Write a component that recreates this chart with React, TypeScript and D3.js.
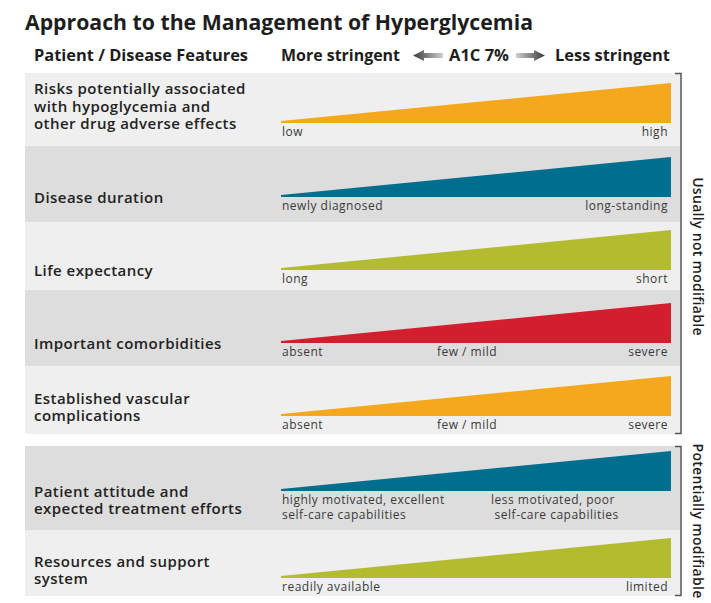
import React from "react";
import * as d3 from "d3";

const title = "Approach to the Management of Hyperglycemia";
const headerLeft = "Patient / Disease Features";
const headerMore = "More stringent";
const headerMid = "A1C 7%";
const headerLess = "Less stringent";

const features = [
  "Risks potentially associated\nwith hypoglycemia and\nother drug adverse effects",
  "Disease duration",
  "Life expectancy",
  "Important comorbidities",
  "Established vascular\ncomplications",
  "Patient attitude and\nexpected treatment efforts",
  "Resources and support\nsystem",
];
const barColors = ["#f6a81d", "#006f8f", "#b3bc2f", "#d21e2d", "#f6a81d", "#006f8f", "#b3bc2f"];
const lowLabels = [
  "low",
  "newly diagnosed",
  "long",
  "absent",
  "absent",
  "highly motivated, excellent\nself-care capabilities",
  "readily available",
];
const midLabels = ["", "", "", "few / mild", "few / mild", "", ""];
const highLabels = [
  "high",
  "long-standing",
  "short",
  "severe",
  "severe",
  "less motivated, poor\n self-care capabilities",
  "limited",
];
const groupLabels = ["Usually not modifiable", "Potentially modifiable"];
const groupOf = [0, 0, 0, 0, 0, 1, 1];
const wedge = [0, 1]; // stringency scale from more to less stringent

// layout (positions only)
const rowTops = [73, 146, 222, 290, 366, 446, 530];
const rowBottoms = [146, 222, 290, 366, 434, 530, 596];
const triBottomOff = [23, 25, 20, 23, 18, 39, 18];
const labelLastBaseOff = [6, 6, 6, 6, 5, 23, 6];
const highStart = [false, false, false, false, false, true, false];

const FONT = "'Open Sans', 'DejaVu Sans', sans-serif";

export default function App() {
  const W = 711, H = 603;
  const x = d3.scaleLinear().domain([0, 1]).range([281, 671]);
  const h = d3.scaleLinear().domain([0, 1]).range([2, 40]);

  const groups = d3.groups(features.map((f, i) => i), (i) => groupOf[i]);

  return (
    <svg width={W} height={H} style={{ position: "absolute", left: 0, top: 0 }} fontFamily={FONT}>
      <defs>
        <linearGradient id="gl" x1="0" x2="1" y1="0" y2="0">
          <stop offset="0" stopColor="#3a3a3a" />
          <stop offset="1" stopColor="#d0d0d0" />
        </linearGradient>
        <linearGradient id="gr" x1="0" x2="1" y1="0" y2="0">
          <stop offset="0" stopColor="#d0d0d0" />
          <stop offset="1" stopColor="#3a3a3a" />
        </linearGradient>
      </defs>
      <rect width={W} height={H} fill="#ffffff" />
      <text x={25} y={30} fontSize={21} fontWeight={700} fill="#1e1e1e" textLength={508} lengthAdjust="spacingAndGlyphs">
        {title}
      </text>
      <text x={34} y={61} fontSize={15.5} fontWeight={700} fill="#1e1e1e" textLength={214} lengthAdjust="spacingAndGlyphs">
        {headerLeft}
      </text>
      <text x={281} y={61} fontSize={15.5} fontWeight={700} fill="#1e1e1e" textLength={119} lengthAdjust="spacingAndGlyphs">
        {headerMore}
      </text>
      <text x={449} y={61} fontSize={15.5} fontWeight={700} fill="#1e1e1e" textLength={60} lengthAdjust="spacingAndGlyphs">
        {headerMid}
      </text>
      <text x={555} y={61} fontSize={15.5} fontWeight={700} fill="#1e1e1e" textLength={115} lengthAdjust="spacingAndGlyphs">
        {headerLess}
      </text>
      {/* arrows */}
      <path d="M413,55.5 L424,50 L424,53 L443,53 L443,58 L424,58 L424,61 Z" fill="url(#gl)" />
      <path d="M545,55.5 L534,50 L534,53 L516,53 L516,58 L534,58 L534,61 Z" fill="url(#gr)" />

      {features.map((f, i) => {
        const top = rowTops[i];
        const bottom = rowBottoms[i];
        const tb = bottom - triBottomOff[i];
        const area = d3
          .area<number>()
          .x((d) => x(d))
          .y0(tb)
          .y1((d) => tb - h(d));
        const lines = f.split("\n");
        const lastBase = tb + labelLastBaseOff[i];
        const lowLines = lowLabels[i].split("\n");
        const highLines = highLabels[i].split("\n");
        const lb = tb + 13;
        return (
          <g key={i}>
            <rect x={25} y={top} width={655} height={bottom - top} fill={i % 2 === 0 ? "#efefef" : "#dddddd"} />
            <path d={area(wedge) || ""} fill={barColors[i]} />
            {lines.map((l, j) => (
              <text
                key={j}
                x={34}
                y={lastBase - (lines.length - 1 - j) * 17.5}
                fontSize={15}
                fontWeight={600}
                letterSpacing={0.45}
                fill="#222"
              >
                {l}
              </text>
            ))}
            {lowLines.map((l, j) => (
              <text key={"l" + j} x={x(0) + 1} y={lb + j * 14.5} fontSize={12} letterSpacing={0.5} fill="#3a3a3a">
                {l}
              </text>
            ))}
            {midLabels[i] && (
              <text x={467} y={lb} fontSize={12} letterSpacing={0.5} fill="#3a3a3a" textAnchor="middle">
                {midLabels[i]}
              </text>
            )}
            {highLines.map((l, j) => (
              <text
                key={"h" + j}
                x={highStart[i] ? 491 : x(1) - 3}
                y={lb + j * 14.5}
                fontSize={12}
                letterSpacing={0.5}
                fill="#3a3a3a"
                textAnchor={highStart[i] ? "start" : "end"}
                xmlSpace="preserve"
              >
                {l}
              </text>
            ))}
          </g>
        );
      })}

      {groups.map(([g, idx]) => {
        const y0 = rowTops[idx[0]];
        const y1 = rowBottoms[idx[idx.length - 1]];
        const cx = 697;
        const cy = (y0 + y1) / 2 + (g === 0 ? 3 : 0);
        return (
          <g key={g}>
            <path d={`M675,${y0 + 0.5} H681 V${y1 - 0.5} H675`} fill="none" stroke="#555" strokeWidth={1.5} />
            <text
              transform={`translate(${cx},${cy}) rotate(90)`}
              textAnchor="middle"
              dominantBaseline="middle"
              fontSize={14}
              fontWeight={600}
              letterSpacing={0.3}
              fill="#1e1e1e"
            >
              {groupLabels[g]}
            </text>
          </g>
        );
      })}
    </svg>
  );
}
